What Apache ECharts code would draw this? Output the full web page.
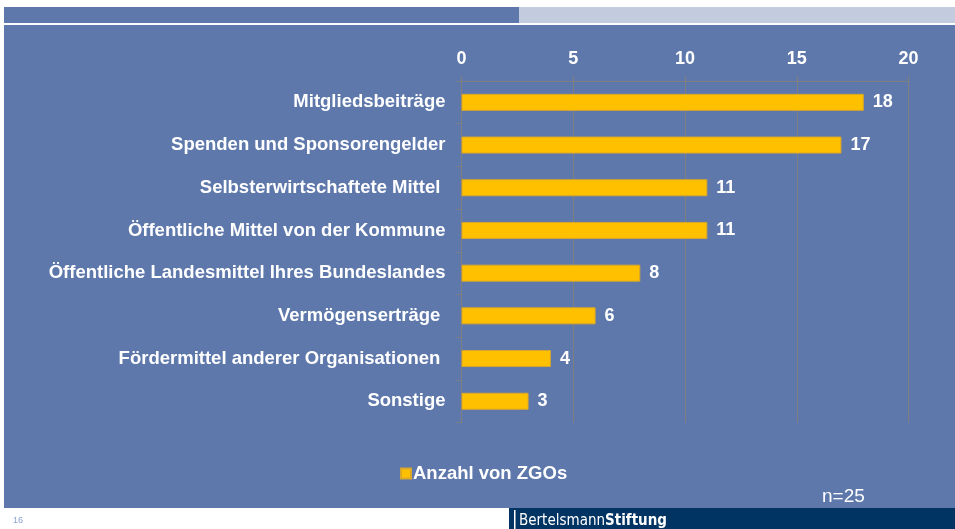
<!DOCTYPE html>
<html>
<head>
<meta charset="utf-8">
<script src="https://cdn.jsdelivr.net/npm/echarts@6/dist/echarts.min.js"></script>
<style>
html, body { margin: 0; padding: 0; background: #fff; }
#chart { width: 955px; height: 529px; }
</style>
</head>
<body>
<div id="chart"></div>
<script>
var categories = [
  "Mitgliedsbeiträge",
  "Spenden und Sponsorengelder",
  "Selbsterwirtschaftete Mittel ",
  "Öffentliche Mittel von der Kommune",
  "Öffentliche Landesmittel Ihres Bundeslandes",
  "Vermögenserträge ",
  "Fördermittel anderer Organisationen ",
  "Sonstige"
];
var values = [18, 17, 11, 11, 8, 6, 4, 3];
var seriesName = "Anzahl von ZGOs";
var axisMax = 20;
var axisStep = 5;

var font = '"Liberation Sans", Arial, sans-serif';
var chart = echarts.init(document.getElementById("chart"));

var option = {
  backgroundColor: "#ffffff",
  animation: false,
  graphic: [
    // top band
    { type: "rect", z: -10, shape: { x: 4, y: 7, width: 515, height: 16 }, style: { fill: "#5e78ab" } },
    { type: "rect", z: -10, shape: { x: 519, y: 7, width: 436, height: 16 }, style: { fill: "#c3cbdf" } },
    // main panel
    { type: "rect", z: -10, shape: { x: 4, y: 25, width: 951, height: 483 }, style: { fill: "#5e78ab" } },
    // footer
    { type: "rect", z: -10, shape: { x: 509, y: 508, width: 446, height: 21 }, style: { fill: "#013463" } },
    { type: "rect", z: -9, shape: { x: 514, y: 510, width: 1.5, height: 19 }, style: { fill: "#ffffff" } },
    {
      type: "text", left: 519, top: 514,
      style: {
        text: "{a|Bertelsmann}{b|Stiftung}",
        rich: {
          a: { fill: "#ffffff", font: '15px "DejaVu Sans Condensed", "Liberation Sans Narrow", sans-serif' },
          b: { fill: "#ffffff", font: 'bold 15px "DejaVu Sans Condensed", "Liberation Sans Narrow", sans-serif' }
        }
      }
    },
    { type: "text", left: 13, top: 516, style: { text: "16", fill: "#8aa2cf", font: "9px " + font } },
    { type: "text", left: 822, top: 487, style: { text: "n=25", fill: "#ffffff", font: "19px " + font } }
  ],
  legend: {
    left: 395,
    top: 459,
    icon: "rect",
    itemWidth: 10,
    itemHeight: 10,
    itemGap: 4,
    textStyle: { color: "#ffffff", fontFamily: font, fontWeight: "bold", fontSize: 18.5, padding: [0, 0, 0, -3] },
    data: [seriesName]
  },
  grid: {
    left: 461.5,
    right: 46.5,
    top: 81,
    height: 341.6,
    containLabel: false
  },
  xAxis: {
    type: "value",
    position: "top",
    min: 0,
    max: axisMax,
    interval: axisStep,
    axisLine: { show: true, lineStyle: { color: "#7f7f7f", width: 1 } },
    axisTick: { show: true, length: 5, lineStyle: { color: "#7f7f7f" } },
    splitLine: { show: true, lineStyle: { color: "#7f7f7f", width: 1 } },
    axisLabel: { color: "#ffffff", fontFamily: font, fontWeight: "bold", fontSize: 18, margin: 13 }
  },
  yAxis: {
    type: "category",
    inverse: true,
    data: categories,
    axisLine: { show: true, lineStyle: { color: "#7f7f7f", width: 1 } },
    axisTick: { show: true, length: 5, lineStyle: { color: "#7f7f7f" } },
    axisLabel: { color: "#ffffff", fontFamily: font, fontWeight: "bold", fontSize: 18.5, margin: 16 }
  },
  series: [
    {
      name: seriesName,
      type: "bar",
      data: values,
      barWidth: 17,
      itemStyle: { color: "#ffc000", borderColor: "#d9a72a", borderWidth: 1 },
      label: {
        show: true,
        position: "right",
        distance: 9,
        color: "#ffffff",
        fontFamily: font,
        fontWeight: "bold",
        fontSize: 18
      }
    }
  ]
};

chart.setOption(option);
</script>
</body>
</html>
